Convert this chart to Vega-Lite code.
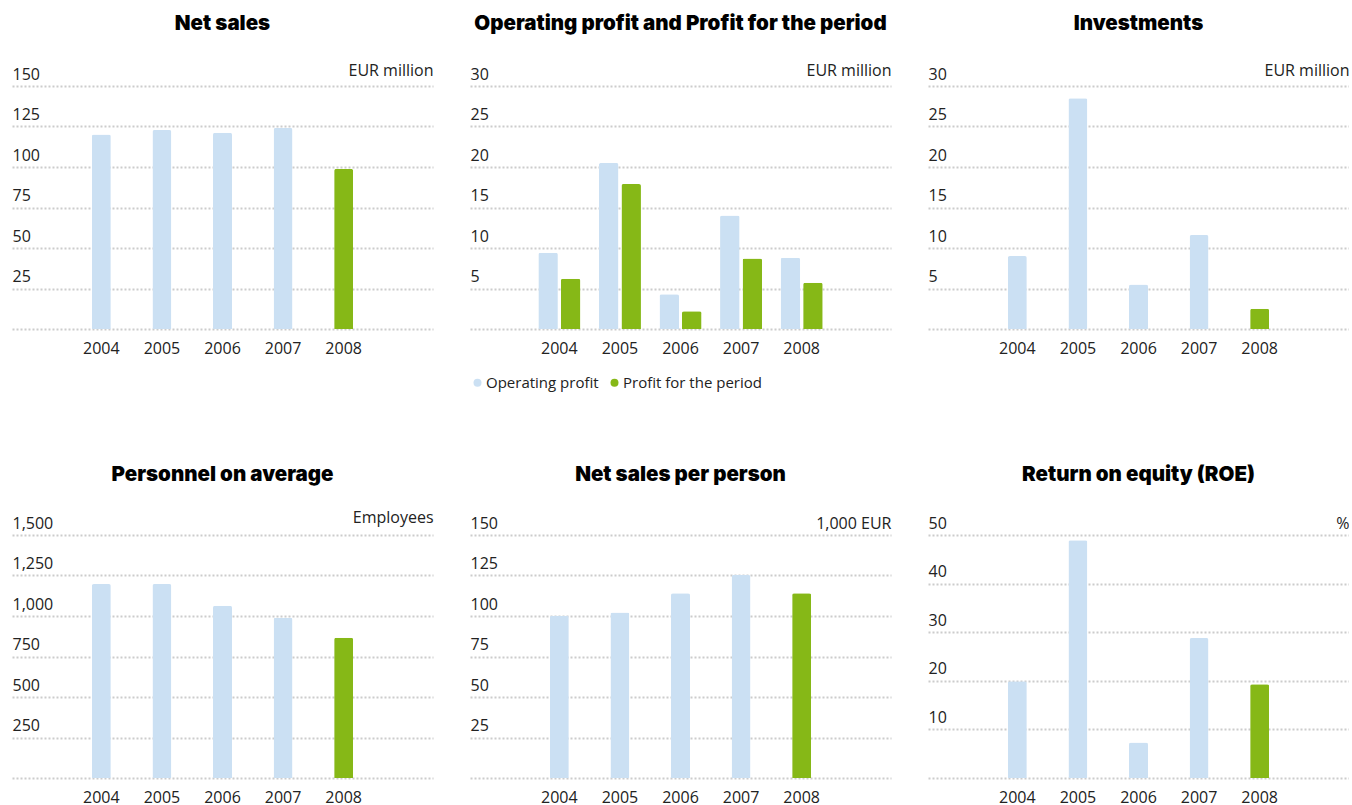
{
  "$schema": "https://vega.github.io/schema/vega-lite/v6.json",
  "background": "white",
  "padding": {"left": 12, "top": 13, "right": 0, "bottom": 2},
  "config": {
    "view": {"stroke": null},
    "font": "Open Sans",
    "axis": {"labelFont": "Open Sans", "labelFontSize": 16, "labelColor": "#222", "titleFont": "Open Sans", "titleFontSize": 16, "titleFontWeight": "normal", "titleColor": "#222"},
    "axisX": {"domain": false, "ticks": false, "tickSize": 0, "labelPadding": 11, "labelAngle": 0, "title": null, "grid": false},
    "axisY": {"domain": false, "ticks": false, "tickSize": 0, "grid": true, "gridColor": "#cccccc", "gridDash": [2, 2], "gridWidth": 2, "labelAlign": "left", "labelBaseline": "alphabetic", "labelPadding": 0, "labelOffset": -7, "labelOverlap": false, "labelExpr": "datum.value == 0 ? '' : datum.label", "titleAngle": 0, "titleAlign": "right", "titleBaseline": "alphabetic", "titleX": 421, "titleY": -11},
    "title": {"font": "Inter", "fontWeight": 900, "fontSize": 20.5, "color": "#000", "anchor": "middle", "offset": 28},
    "bar": {"cornerRadiusTopLeft": 2, "cornerRadiusTopRight": 2},
    "legend": {"labelFont": "Open Sans", "labelFontSize": 15, "labelColor": "#222"}
  },
  "datasets": {
    "netsales": [
      {"year": "2004", "value": 120.0},
      {"year": "2005", "value": 122.8},
      {"year": "2006", "value": 121.2},
      {"year": "2007", "value": 124.1},
      {"year": "2008", "value": 98.8}
    ],
    "profit": [
      {"year": "2004", "series": "Operating profit", "value": 9.4},
      {"year": "2004", "series": "Profit for the period", "value": 6.2},
      {"year": "2005", "series": "Operating profit", "value": 20.5},
      {"year": "2005", "series": "Profit for the period", "value": 17.9},
      {"year": "2006", "series": "Operating profit", "value": 4.3},
      {"year": "2006", "series": "Profit for the period", "value": 2.2},
      {"year": "2007", "series": "Operating profit", "value": 14.0},
      {"year": "2007", "series": "Profit for the period", "value": 8.7},
      {"year": "2008", "series": "Operating profit", "value": 8.8},
      {"year": "2008", "series": "Profit for the period", "value": 5.7}
    ],
    "invest": [
      {"year": "2004", "value": 9.0},
      {"year": "2005", "value": 28.5},
      {"year": "2006", "value": 5.5},
      {"year": "2007", "value": 11.6},
      {"year": "2008", "value": 2.5}
    ],
    "personnel": [
      {"year": "2004", "value": 1197},
      {"year": "2005", "value": 1197},
      {"year": "2006", "value": 1063},
      {"year": "2007", "value": 989},
      {"year": "2008", "value": 865}
    ],
    "nspp": [
      {"year": "2004", "value": 100.1},
      {"year": "2005", "value": 102.2},
      {"year": "2006", "value": 114.0},
      {"year": "2007", "value": 125.3},
      {"year": "2008", "value": 114.0}
    ],
    "roe": [
      {"year": "2004", "value": 19.9},
      {"year": "2005", "value": 48.9},
      {"year": "2006", "value": 7.3},
      {"year": "2007", "value": 28.8},
      {"year": "2008", "value": 19.3}
    ]
  },
  "resolve": {"scale": {"color": "independent"}, "legend": {"color": "independent"}},
  "spacing": 73,
  "vconcat": [
    {
      "spacing": 37,
      "resolve": {"scale": {"color": "independent"}, "legend": {"color": "independent"}},
      "hconcat": [
        {
          "title": "Net sales",
          "width": 421, "height": 243,
          "data": {"name": "netsales"},
          "mark": {"type": "bar", "width": 19},
          "encoding": {
            "x": {"field": "year", "type": "ordinal", "scale": {"paddingInner": 0.05, "paddingOuter": 1}},
            "y": {"field": "value", "type": "quantitative", "scale": {"domain": [0, 150]}, "axis": {"values": [0, 25, 50, 75, 100, 125, 150], "title": "EUR million"}},
            "color": {"condition": {"test": "datum.year == '2008'", "value": "#86b817"}, "value": "#cbe0f3"}
          }
        },
        {
          "title": "Operating profit and Profit for the period",
          "width": 421, "height": 243,
          "data": {"name": "profit"},
          "mark": {"type": "bar"},
          "encoding": {
            "x": {"field": "year", "type": "ordinal", "scale": {"paddingInner": 0.05, "paddingOuter": 1}},
            "xOffset": {"field": "series", "type": "nominal", "scale": {"paddingInner": 0.133, "paddingOuter": 0.344}},
            "y": {"field": "value", "type": "quantitative", "scale": {"domain": [0, 30]}, "axis": {"values": [0, 5, 10, 15, 20, 25, 30], "title": "EUR million"}},
            "color": {"field": "series", "type": "nominal", "scale": {"domain": ["Operating profit", "Profit for the period"], "range": ["#cbe0f3", "#86b817"]},
              "legend": {"orient": "none", "legendX": 0, "legendY": 289, "direction": "horizontal", "title": null, "symbolType": "circle", "symbolSize": 64, "symbolStrokeWidth": 0, "columnPadding": 8, "labelOffset": 1, "padding": 0}}
          }
        },
        {
          "title": "Investments",
          "width": 421, "height": 243,
          "data": {"name": "invest"},
          "mark": {"type": "bar", "width": 19},
          "encoding": {
            "x": {"field": "year", "type": "ordinal", "scale": {"paddingInner": 0.05, "paddingOuter": 1}},
            "y": {"field": "value", "type": "quantitative", "scale": {"domain": [0, 30]}, "axis": {"values": [0, 5, 10, 15, 20, 25, 30], "title": "EUR million"}},
            "color": {"condition": {"test": "datum.year == '2008'", "value": "#86b817"}, "value": "#cbe0f3"}
          }
        }
      ]
    },
    {
      "spacing": 37,
      "hconcat": [
        {
          "title": {"text": "Personnel on average", "offset": 24},
          "width": 421, "height": 243,
          "data": {"name": "personnel"},
          "mark": {"type": "bar", "width": 19},
          "encoding": {
            "x": {"field": "year", "type": "ordinal", "scale": {"paddingInner": 0.05, "paddingOuter": 1}},
            "y": {"field": "value", "type": "quantitative", "scale": {"domain": [0, 1500]}, "axis": {"values": [0, 250, 500, 750, 1000, 1250, 1500], "labelExpr": "datum.value == 0 ? '' : format(datum.value, ',d')", "title": "Employees", "titleY": -13}},
            "color": {"condition": {"test": "datum.year == '2008'", "value": "#86b817"}, "value": "#cbe0f3"}
          }
        },
        {
          "title": {"text": "Net sales per person", "offset": 30},
          "width": 421, "height": 243,
          "data": {"name": "nspp"},
          "mark": {"type": "bar", "width": 19},
          "encoding": {
            "x": {"field": "year", "type": "ordinal", "scale": {"paddingInner": 0.05, "paddingOuter": 1}},
            "y": {"field": "value", "type": "quantitative", "scale": {"domain": [0, 150]}, "axis": {"values": [0, 25, 50, 75, 100, 125, 150], "title": "1,000 EUR", "titleY": -7}},
            "color": {"condition": {"test": "datum.year == '2008'", "value": "#86b817"}, "value": "#cbe0f3"}
          }
        },
        {
          "title": {"text": "Return on equity (ROE)", "offset": 30},
          "width": 421, "height": 243,
          "data": {"name": "roe"},
          "mark": {"type": "bar", "width": 19},
          "encoding": {
            "x": {"field": "year", "type": "ordinal", "scale": {"paddingInner": 0.05, "paddingOuter": 1}},
            "y": {"field": "value", "type": "quantitative", "scale": {"domain": [0, 50]}, "axis": {"values": [0, 10, 20, 30, 40, 50], "title": "%", "titleY": -7}},
            "color": {"condition": {"test": "datum.year == '2008'", "value": "#86b817"}, "value": "#cbe0f3"}
          }
        }
      ]
    }
  ]
}
